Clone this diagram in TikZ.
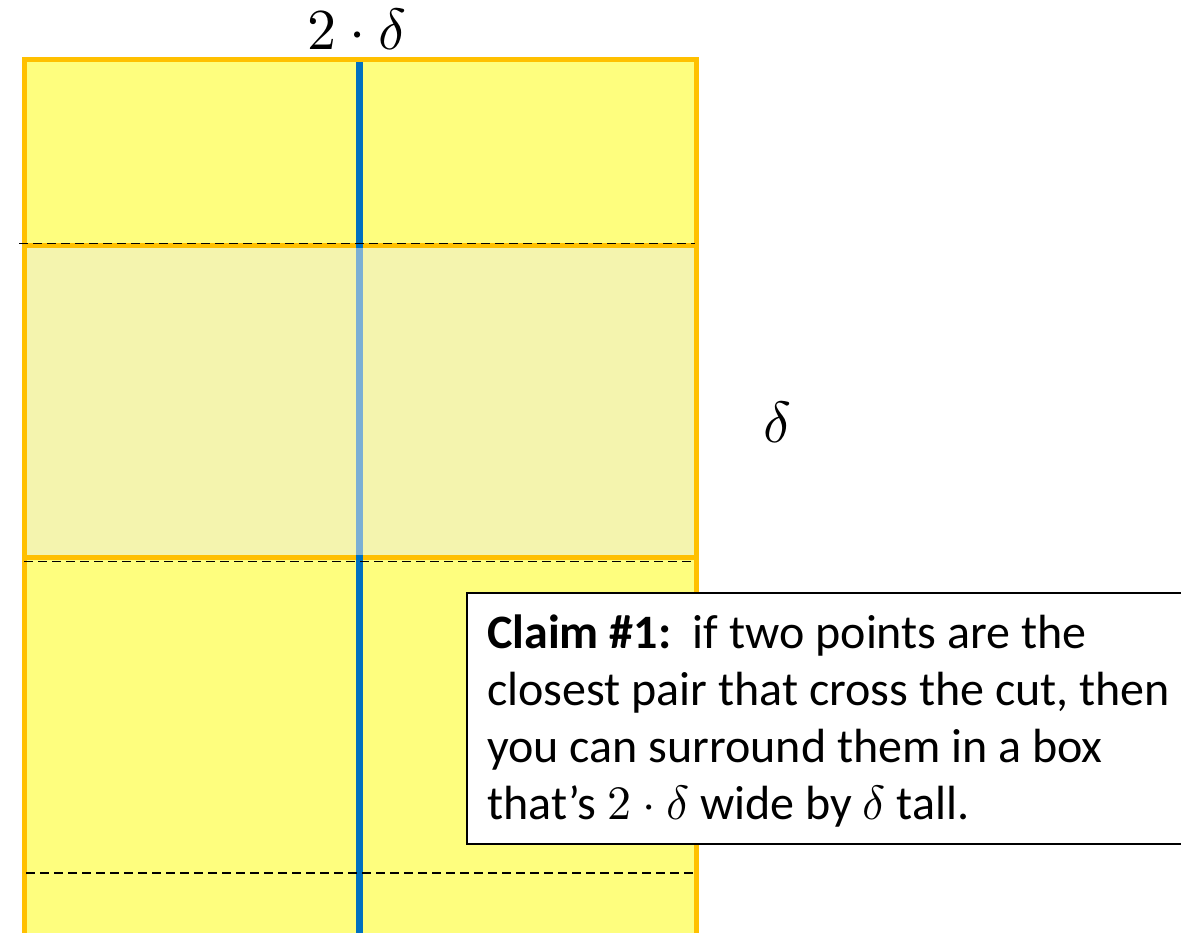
\documentclass[tikz,border=0pt]{standalone}
\usepackage{fontspec}
\usepackage{unicode-math}
\setmathfont{Latin Modern Math}
\newfontfamily\claimfont{Carlito}
\definecolor{boxyellow}{HTML}{FEFE7E}
\definecolor{bandyellow}{HTML}{F4F4AE}
\definecolor{edgeorange}{HTML}{FFC000}
\definecolor{cutblue}{HTML}{0070C0}
\definecolor{cutlight}{HTML}{7BAFD4}
\tikzset{
  edge/.style={draw=edgeorange, line width=5pt},
  cutline/.style={draw=cutblue, line width=7pt},
  cutfaint/.style={draw=cutlight, line width=7pt},
  thindash/.style={draw=black, line width=0.9pt, dash pattern=on 9pt off 5pt},
  thickdash/.style={draw=black, line width=2pt, dash pattern=on 9pt off 5pt},
  bigmath/.style={font=\fontsize{58}{60}\selectfont, inner sep=0pt},
  claimline/.style={font=\claimfont\fontsize{48}{56}\selectfont, inner sep=0pt, anchor=base west},
  claimbox/.style={draw=black, line width=2pt, fill=white, anchor=north west, inner sep=0pt}
}
\begin{document}
\begin{tikzpicture}[x=1pt, y=-1pt]
\useasboundingbox (0,0) rectangle (1181,933);
% outer area
\coordinate (otl) at (24,60);
\coordinate (obr) at (696,940);
\fill[boxyellow] (otl) rectangle (obr);
\draw[edge] (otl) rectangle (obr);
% middle band
\coordinate (btl) at (24,246);
\coordinate (bbr) at (696,557);
\fill[bandyellow] (btl) rectangle (bbr);
\draw[edge] (btl) rectangle (bbr);
% the cut
\coordinate (ctop) at (359.5,62);
\coordinate (cbandtop) at (359.5,248.5);
\coordinate (cbandbot) at (359.5,554.5);
\coordinate (cbot) at (359.5,940);
\draw[cutline] (ctop) -- (cbandtop);
\draw[cutfaint] (cbandtop) -- (cbandbot);
\draw[cutline] (cbandbot) -- (cbot);
% dashed lines
\coordinate (d1l) at (19,243);
\coordinate (d1r) at (695,243);
\coordinate (d2l) at (24,561);
\coordinate (d2r) at (695,561);
\coordinate (d3l) at (26,873);
\coordinate (d3r) at (694,873);
\draw[thindash] (d1l) -- (d1r);
\draw[thindash] (d2l) -- (d2r);
\draw[thickdash] (d3l) -- (d3r);
% labels
\node[bigmath, anchor=base] (width) at (357,50) {$2\cdot\delta$};
\node[bigmath, anchor=base] (height) at (777,442) {$\delta$};
% claim box
\node[claimbox, minimum width=720pt, minimum height=251pt] (claim) at (466,592) {};
\node[claimline] (l1) at (487,648) {\textbf{Claim \#1:}\ \ if two points are the};
\node[claimline] (l2) at (487,705) {closest pair that cross the cut, then};
\node[claimline] (l3) at (487,762) {you can surround them in a box};
\node[claimline] (l4) at (487,819) {that’s $2\cdot\delta$ wide by $\delta$ tall.};
\end{tikzpicture}
\end{document}
